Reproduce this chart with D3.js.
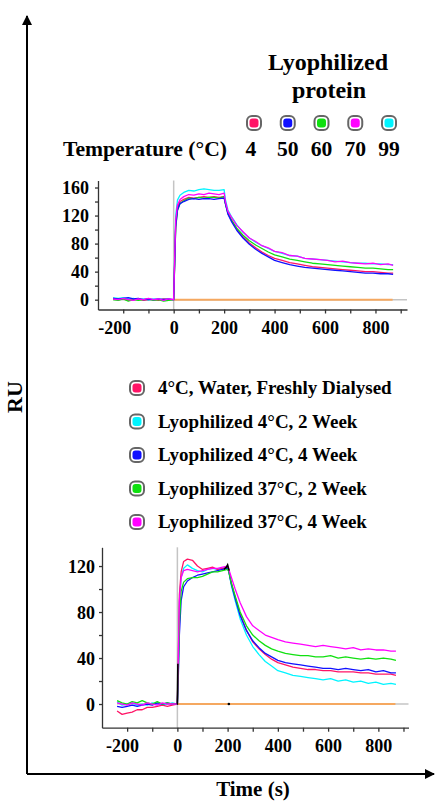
<!DOCTYPE html>
<html>
<head>
<meta charset="utf-8">
<script src="https://cdn.jsdelivr.net/npm/d3@7"></script>
<style>
  html, body { margin: 0; padding: 0; background: #fff; }
  svg { display: block; }
  text { font-family: "Liberation Serif", "Times New Roman", serif; font-weight: bold; fill: #000; }
</style>
</head>
<body>
<svg id="chart" width="445" height="806"></svg>
<script>
// ---------- DATA ----------
const times = [-240,-220,-200,-180,-160,-140,-120,-100,-80,-60,-40,-20,
  0,4,8,15,25,40,60,80,100,120,140,160,180,200,
  205,215,230,250,275,300,325,350,375,400,
  430,460,490,520,550,580,610,640,670,700,730,760,790,820,850,870];

// Top panel: lyophilized protein at different temperatures (°C)
const tempLabels = ["4", "50", "60", "70", "99"];
const top4  = [2,0,1,-1,0,1,-1,0,0,-1,1,0,
  0,55,108,132,140,143,146,145,146,147,146,147,146,147,
  138,124,113,101,90,81,74,68,63,59,
  56,53,51,49,47,46,45,44,43,42,41,40,40,39,38,38];
const top50 = [2,1,2,3,1,2,0,1,0,1,0,1,
  0,52,104,128,137,140,143,144,143,144,144,143,144,145,
  137,122,111,99,88,79,72,66,61,56,
  53,50,48,46,45,44,43,42,41,40,39,38,38,37,37,36];
const top60 = [0,-1,1,-2,0,-1,0,1,-1,0,-2,-1,
  0,50,102,127,137,141,145,144,146,145,146,146,145,147,
  137,123,113,102,92,84,78,73,68,64,
  61,58,56,54,52,51,50,49,48,47,46,45,45,44,43,43];
const top70 = [1,0,2,0,-1,1,0,2,0,1,-1,1,
  0,60,112,135,143,147,150,149,151,150,152,151,150,152,
  140,126,117,106,97,88,83,77,74,69,
  67,63,62,59,58,57,56,54,55,53,52,51,52,50,51,49];
const top99 = [3,2,3,1,2,0,1,-1,1,0,1,0,
  0,66,120,142,149,153,156,155,157,158,157,156,156,157,
  143,128,118,107,96,88,82,77,73,69,
  66,63,62,59,58,57,56,55,54,53,52,52,51,51,50,50];

// Bottom panel: storage conditions
const condLabels = ["4°C, Water, Freshly Dialysed", "Lyophilized 4°C, 2 Week",
  "Lyophilized 4°C, 4 Week", "Lyophilized 37°C, 2 Week", "Lyophilized 37°C, 4 Week"];
const botFresh = [-6,-9,-8,-7,-5,-5,-3,-3,-2,-1,-2,-1,
  0,45,95,115,124,126,125,120,117,118,119,117,118,119,
  116,105,93,78,64,54,48,43,39,36,
  34,32,31,30,30,29,29,28,28,28,27,27,26,26,26,25];
const botL4w2 = [2,-1,0,1,-1,0,-1,1,0,-1,0,1,
  0,40,88,110,118,121,118,116,115,117,118,117,118,119,
  115,103,90,74,60,50,43,37,33,29,
  27,25,24,23,22,21,22,20,21,19,20,18,19,17,18,17];
const botL4w4 = [-2,-3,-2,-1,-2,-1,0,-1,1,0,1,0,
  0,25,60,90,102,107,110,112,113,114,115,116,117,118,
  115,104,92,77,64,55,49,44,41,38,
  36,35,34,33,32,31,31,30,31,30,29,30,28,29,27,27];
const botL37w2 = [3,1,0,2,1,3,1,0,2,0,1,0,
  0,30,70,98,106,109,110,110,111,113,115,115,116,117,
  115,105,94,80,68,60,55,51,48,46,
  44,43,42,42,41,41,42,40,41,40,39,40,39,40,39,38];
const botL37w4 = [1,0,-1,1,0,-1,1,0,-1,1,0,0,
  0,42,90,110,116,117,116,115,116,117,118,118,119,120,
  117,110,100,88,76,68,64,60,58,56,
  54,53,52,51,50,51,50,49,48,49,47,48,47,47,46,46];
// Black reference trace (visible only at injection start and end)
const blackTimes = [-2, 0, 2, 185, 195, 200, 206];
const blackVals  = [0, 0, 35, 117, 119, 121, 116];

const xTicks = [-200,-100,0,100,200,300,400,500,600,700,800,900];
const xLabels = [-200,0,200,400,600,800];
const topYTicks = [0,20,40,60,80,100,120,140,160];
const botYTicks = [0,20,40,60,80,100,120];
const yLabelStep = 40;

// ---------- STYLE ----------
const C = { pink: "#ff1466", blue: "#1010ff", green: "#10e010", magenta: "#ff00ff", cyan: "#00f4ff" };

const svg = d3.select("#chart");

// Big outer axes with arrows
const defs = svg.append("defs");
defs.append("marker").attr("id", "arrow").attr("viewBox", "0 0 10 10")
  .attr("refX", 9).attr("refY", 5).attr("markerWidth", 5).attr("markerHeight", 5)
  .attr("orient", "auto")
  .append("path").attr("d", "M0,0 L10,5 L0,10 z").attr("fill", "#000");
svg.append("line").attr("x1", 27).attr("y1", 774).attr("x2", 27).attr("y2", 16)
  .attr("stroke", "#000").attr("stroke-width", 2).attr("marker-end", "url(#arrow)");
svg.append("line").attr("x1", 27).attr("y1", 774).attr("x2", 434).attr("y2", 774)
  .attr("stroke", "#000").attr("stroke-width", 2).attr("marker-end", "url(#arrow)");
svg.append("text").attr("transform", "translate(22,397) rotate(-90)")
  .attr("text-anchor", "middle").attr("font-size", 22).text("RU");
svg.append("text").attr("x", 253).attr("y", 796).attr("text-anchor", "middle")
  .attr("font-size", 21).text("Time (s)");

function marker(g, cx, cy, color) {
  g.append("rect").attr("x", cx - 7).attr("y", cy - 7).attr("width", 14).attr("height", 14)
    .attr("rx", 5).attr("fill", "#fff").attr("stroke", "#666").attr("stroke-width", 2);
  g.append("rect").attr("x", cx - 4.5).attr("y", cy - 4.5).attr("width", 9).attr("height", 9)
    .attr("rx", 3).attr("fill", color);
}

// Top legend
svg.append("text").attr("x", 328).attr("y", 70).attr("text-anchor", "middle").attr("font-size", 24).text("Lyophilized");
svg.append("text").attr("x", 329).attr("y", 98).attr("text-anchor", "middle").attr("font-size", 24).text("protein");
svg.append("text").attr("x", 63).attr("y", 156).attr("font-size", 21.6).text("Temperature (°C)");
const topColors = [C.pink, C.blue, C.green, C.magenta, C.cyan];
const tempX = d3.scalePoint().domain(tempLabels).range([254, 389]);
tempLabels.forEach((t, i) => {
  marker(svg, tempX(t), 123, topColors[i]);
  svg.append("text").attr("x", tempX(t) - (i === 0 ? 3 : 0)).attr("y", 156)
    .attr("text-anchor", "middle").attr("font-size", 21.6).text(t);
});

// Bottom legend
const condColors = [C.pink, C.cyan, C.blue, C.green, C.magenta];
const legY = d3.scalePoint().domain(condLabels).range([388, 522]);
condLabels.forEach((t, i) => {
  marker(svg, 137, legY(t), condColors[i]);
  svg.append("text").attr("x", 158).attr("y", legY(t) + 6).attr("font-size", 19).text(t);
});

function panel(opt) {
  const g = svg.append("g");
  const x = d3.scaleLinear().domain(opt.xDomain).range(opt.xRange);
  const y = d3.scaleLinear().domain(opt.yDomain).range(opt.yRange);
  // gray reference lines
  g.append("line").attr("x1", x(0)).attr("x2", x(0)).attr("y1", opt.yRange[1]).attr("y2", opt.yRange[0])
    .attr("stroke", "#c4c4c4").attr("stroke-width", 1.5);
  g.append("line").attr("x1", x(-240)).attr("x2", opt.xRange[1]).attr("y1", y(0)).attr("y2", y(0))
    .attr("stroke", "#c4c4c4").attr("stroke-width", 1.5);
  g.append("line").attr("x1", x(0)).attr("x2", x(868)).attr("y1", y(0)).attr("y2", y(0))
    .attr("stroke", "#f5a860").attr("stroke-width", 2);
  const line = d3.line().x((d, i) => x(times[i])).y(d => y(d));
  opt.series.forEach(s => {
    g.append("path").datum(s.values).attr("d", line).attr("fill", "none")
      .attr("stroke", s.color).attr("stroke-width", 1.3).attr("stroke-linejoin", "round");
  });
  if (opt.black) {
    g.append("path").datum(blackVals.slice(0, 3)).attr("d", d3.line().x((d, i) => x(blackTimes[i])).y(d => y(d)))
      .attr("fill", "none").attr("stroke", "#000").attr("stroke-width", 1.6);
    g.append("path").datum(blackVals.slice(3)).attr("d", d3.line().x((d, i) => x(blackTimes[i + 3])).y(d => y(d)))
      .attr("fill", "none").attr("stroke", "#000").attr("stroke-width", 1.6);
    g.append("circle").attr("cx", x(205)).attr("cy", y(0)).attr("r", 1.3).attr("fill", "#000");
  }
  // axes
  const xa = g.append("g").attr("transform", `translate(0,${opt.yRange[0]})`)
    .call(d3.axisBottom(x).tickValues(xTicks).tickSize(4).tickSizeOuter(0)
      .tickFormat(d => xLabels.includes(d) ? d : ""));
  xa.selectAll("text").attr("font-size", 18).attr("dy", "0.95em")
    .attr("dx", d => d < 0 ? opt.negDx : 0).attr("font-family", null);
  const ya = g.append("g").attr("transform", `translate(${opt.xRange[0]},0)`)
    .call(d3.axisLeft(y).tickValues(opt.yTicks).tickSize(3).tickSizeOuter(0)
      .tickFormat(d => d % yLabelStep === 0 ? d : ""));
  ya.selectAll("text").attr("font-size", opt.yFont).attr("x", -opt.yGap).attr("dy", "0.34em").attr("font-family", null);
  [xa, ya].forEach(a => {
    a.selectAll("path,line").attr("stroke", "#333").attr("stroke-width", 1.3);
    a.attr("font-family", null);
  });
}

panel({
  xDomain: [-300, 925], xRange: [98, 407],
  yDomain: [-14, 170], yRange: [309.5, 180.5],
  yTicks: topYTicks, yFont: 18, yGap: 9, negDx: -9,
  series: [
    { color: C.cyan, values: top99 },
    { color: C.pink, values: top4 },
    { color: C.green, values: top60 },
    { color: C.blue, values: top50 },
    { color: C.magenta, values: top70 }
  ]
});

panel({
  xDomain: [-300, 920], xRange: [102, 408.5],
  yDomain: [-20.6, 136.3], yRange: [727.7, 547.3],
  yTicks: botYTicks, yFont: 18, yGap: 7, negDx: -5,
  black: true,
  series: [
    { color: C.cyan, values: botL4w2 },
    { color: C.pink, values: botFresh },
    { color: C.blue, values: botL4w4 },
    { color: C.green, values: botL37w2 },
    { color: C.magenta, values: botL37w4 }
  ]
});
</script>
</body>
</html>
